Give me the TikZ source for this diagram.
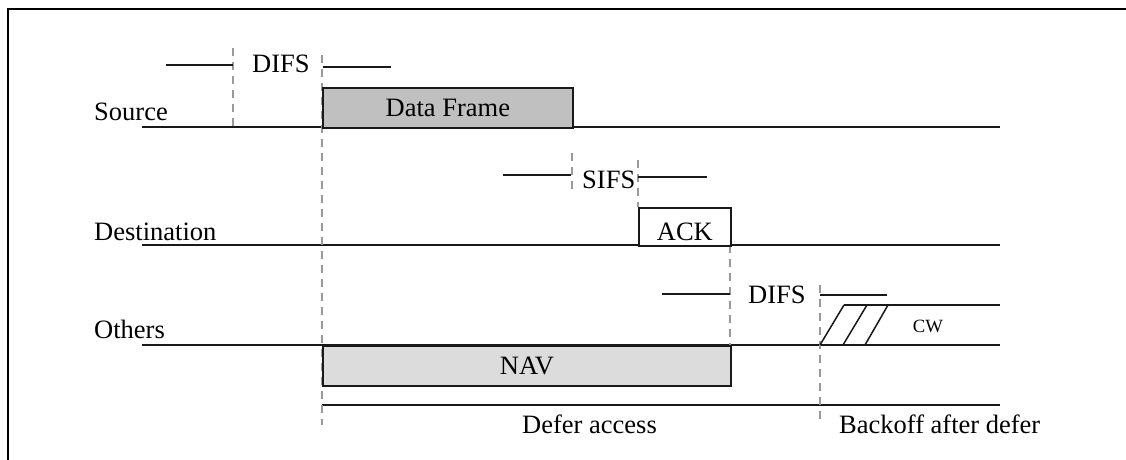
\documentclass[tikz,border=0pt]{standalone}
\usepackage{fontspec}
\setmainfont{Liberation Serif}
\definecolor{framegray}{HTML}{C0C0C0}
\definecolor{navgray}{HTML}{DCDCDC}
\definecolor{guidegray}{HTML}{9A9A9A}
\begin{document}
\begin{tikzpicture}[x=1pt,y=-1pt,
  lbl/.style={font=\fontsize{26.5}{30}\selectfont, inner sep=0pt},
  smalllbl/.style={font=\fontsize{18.7}{22}\selectfont, inner sep=0pt},
  timeline/.style={line width=1.8pt, black!90},
  span/.style={line width=1.5pt, black!90},
  guide/.style={guidegray, line width=1.5pt, dash pattern=on 8pt off 6pt},
  outer/.style={line width=2.6pt, black},
  slot/.style={draw=black!90, line width=1.8pt, inner sep=0pt, anchor=north west},
]
\useasboundingbox (0,0) rectangle (1126,460);

% outer frame (top and left edges)
\coordinate (fbl) at (8,460);
\coordinate (ftl) at (8,9);
\coordinate (ftr) at (1126,9);
\draw[outer] (fbl) -- (ftl) -- (ftr);

% station time axes
\coordinate (srcA) at (142,127);  \coordinate (srcB) at (1000,127);
\coordinate (dstA) at (142,245);  \coordinate (dstB) at (1000,245);
\coordinate (othA) at (142,345);  \coordinate (othB) at (1000,345);
\coordinate (cwA)  at (844,305);  \coordinate (cwB)  at (1000,305);
\coordinate (defA) at (322,405);  \coordinate (defB) at (1000,405);
\draw[timeline] (srcA) -- (srcB);
\draw[timeline] (dstA) -- (dstB);
\draw[timeline] (othA) -- (othB);
\draw[timeline] (cwA) -- (cwB);
\draw[timeline] (defA) -- (defB);

% dashed time markers
\coordinate (m1a) at (233,48);  \coordinate (m1b) at (233,127);
\coordinate (m2a) at (322,55);  \coordinate (m2b) at (322,425);
\coordinate (m3a) at (572,153); \coordinate (m3b) at (572,190);
\coordinate (m4a) at (638,160); \coordinate (m4b) at (638,207);
\coordinate (m5a) at (730,245); \coordinate (m5b) at (730,345);
\coordinate (m6a) at (820,285); \coordinate (m6b) at (820,420);
\foreach \m in {1,...,6} \draw[guide] (m\m a) -- (m\m b);

% interframe space brackets
\coordinate (d1a) at (166,65);  \coordinate (d1b) at (233,65);
\coordinate (d1c) at (323,67);  \coordinate (d1d) at (391,67);
\coordinate (s1a) at (503,175); \coordinate (s1b) at (571,175);
\coordinate (s1c) at (638,177); \coordinate (s1d) at (707,177);
\coordinate (d2a) at (662,294); \coordinate (d2b) at (730,294);
\coordinate (d2c) at (820,295); \coordinate (d2d) at (887,295);
\draw[span] (d1a) -- (d1b);  \draw[span] (d1c) -- (d1d);
\draw[span] (s1a) -- (s1b);  \draw[span] (s1c) -- (s1d);
\draw[span] (d2a) -- (d2b);  \draw[span] (d2c) -- (d2d);

% frames on the air
\node[slot, fill=framegray, minimum width=250pt, minimum height=40pt] (data) at (322,87) {};
\node[lbl] at (data.center) {Data Frame};
\node[slot, fill=white, minimum width=92pt, minimum height=38pt] (ack) at (638,207) {};
\node[lbl, anchor=base] at ([yshift=6pt]ack.south) {ACK};
\node[slot, fill=navgray, minimum width=408pt, minimum height=40pt] (nav) at (322,345) {};
\node[lbl] at (nav.center) {NAV};

% contention window slots
\coordinate (w1a) at (820,345); \coordinate (w1b) at (844,305);
\coordinate (w2a) at (843,345); \coordinate (w2b) at (867,305);
\coordinate (w3a) at (865,345); \coordinate (w3b) at (888,305);
\draw[span] (w1a) -- (w1b);
\draw[span] (w2a) -- (w2b);
\draw[span] (w3a) -- (w3b);
\node[smalllbl] (cw) at (928,326) {CW};

% labels
\node[lbl, anchor=base west] (source) at (94,120) {Source};
\node[lbl, anchor=base west] (dest) at (94,240) {Destination};
\node[lbl, anchor=base west] (others) at (94,338) {Others};
\node[lbl, anchor=base west] (difs1) at (252,73) {DIFS};
\node[lbl, anchor=base west] (sifs) at (582,188) {SIFS};
\node[lbl, anchor=base west] (difs2) at (748,303) {DIFS};
\node[lbl, anchor=base west] (defer) at (522,433) {Defer access};
\node[lbl, anchor=base west] (backoff) at (839,433) {Backoff after defer};
\end{tikzpicture}
\end{document}
